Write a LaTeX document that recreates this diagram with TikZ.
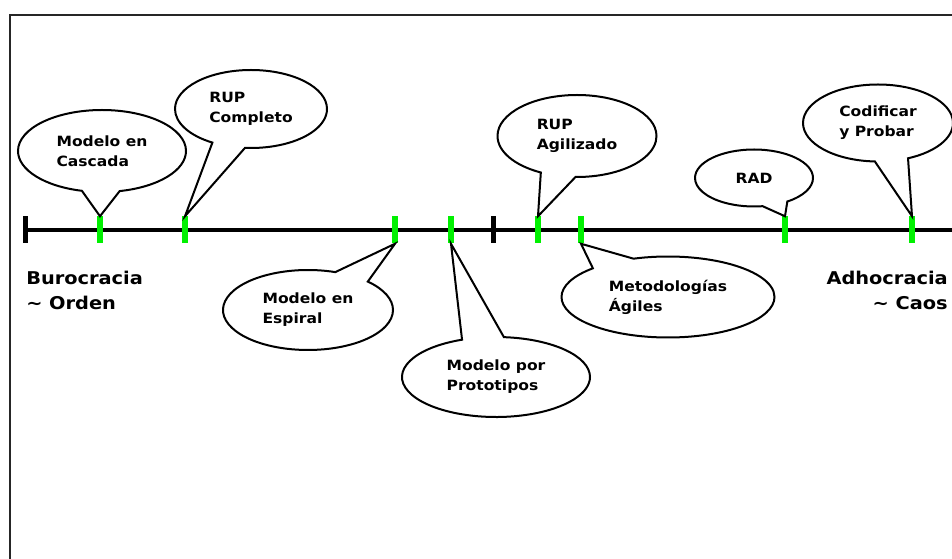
\documentclass[tikz,border=0pt]{standalone}
\usepackage{fontspec}
\usetikzlibrary{shapes.callouts}
\newfontfamily\vfont{DejaVu Sans}[FakeStretch=1.1]
\definecolor{tickgreen}{RGB}{0,240,0}
\begin{document}
\begin{tikzpicture}[x=0.75pt,y=-0.75pt,
  bubble/.style={ellipse callout, draw=black, fill=white, line width=1.5pt,
    inner sep=0pt, align=left, callout pointer arc=26,
    font=\vfont\bfseries\fontsize{10.6}{15}\selectfont},
  gtick/.style={fill=tickgreen, inner sep=0pt, minimum width=6*0.75pt, minimum height=27*0.75pt},
  btick/.style={fill=black, inner sep=0pt, minimum width=5*0.75pt, minimum height=27*0.75pt},
  endlabel/.style={inner sep=0pt, font=\vfont\bfseries\fontsize{13.2}{18.75}\selectfont}]
\useasboundingbox (0,0) rectangle (952,559);
\clip (0,0) rectangle (952,559);
% outer frame
\draw[black!85, line width=1.5pt] (970,15) -- (10,15) -- (10,580);
% time line with its two black marks
\node[btick] (lend) at (25,230) {};
\node[btick] (mid) at (493,230) {};
\coordinate (axend) at (970,230);
\draw[line width=3.4pt] (lend.center) -- (axend);
\node[btick] at (lend) {};
\node[btick] at (mid) {};
% green marks
\node[gtick] (t1) at (100,230) {};
\node[gtick] (t2) at (185,230) {};
\node[gtick] (t3) at (395,230) {};
\node[gtick] (t4) at (451,230) {};
\node[gtick] (t5) at (538,230) {};
\node[gtick] (t6) at (581,230) {};
\node[gtick] (t7) at (785,230) {};
\node[gtick] (t8) at (912,230) {};
% callouts
\node[bubble, minimum width=168*0.75pt, minimum height=82*0.75pt,
  callout absolute pointer={(t1.north)}] (casc) at (102,151) {Modelo en\\Cascada};
\node[bubble, minimum width=152*0.75pt, minimum height=78*0.75pt,
  callout absolute pointer={(t2.north)}] (rupc) at (251,109) {RUP\\Completo};
\node[bubble, minimum width=170*0.75pt, minimum height=80*0.75pt,
  callout absolute pointer={(t3.south)}] (espi) at (308,310) {Modelo en\\Espiral};
\node[bubble, minimum width=188*0.75pt, minimum height=80*0.75pt,
  callout absolute pointer={(t4.south)}] (prot) at (496,377) {Modelo por\\Prototipos};
\node[bubble, minimum width=159*0.75pt, minimum height=82*0.75pt,
  callout absolute pointer={(t5.north)}] (rupa) at (577,136) {RUP\\Agilizado};
\node[bubble, minimum width=213*0.75pt, minimum height=81*0.75pt,
  callout absolute pointer={(t6.south)}] (meto) at (668,297) {Metodologías\\Ágiles};
\node[bubble, minimum width=118*0.75pt, minimum height=57*0.75pt,
  callout absolute pointer={(t7.north)}] (rad) at (754,178) {RAD};
\node[bubble, minimum width=150*0.75pt, minimum height=77*0.75pt,
  callout absolute pointer={(t8.north)}] (codi) at (878,123) {Codificar\\y Probar};
% end labels
\node[endlabel, anchor=west, align=left] (buro) at (26,290) {Burocracia\\\textasciitilde\ Orden};
\node[endlabel, anchor=east, align=right] (adho) at (948,290) {Adhocracia\\\textasciitilde\ Caos};
\end{tikzpicture}
\end{document}
